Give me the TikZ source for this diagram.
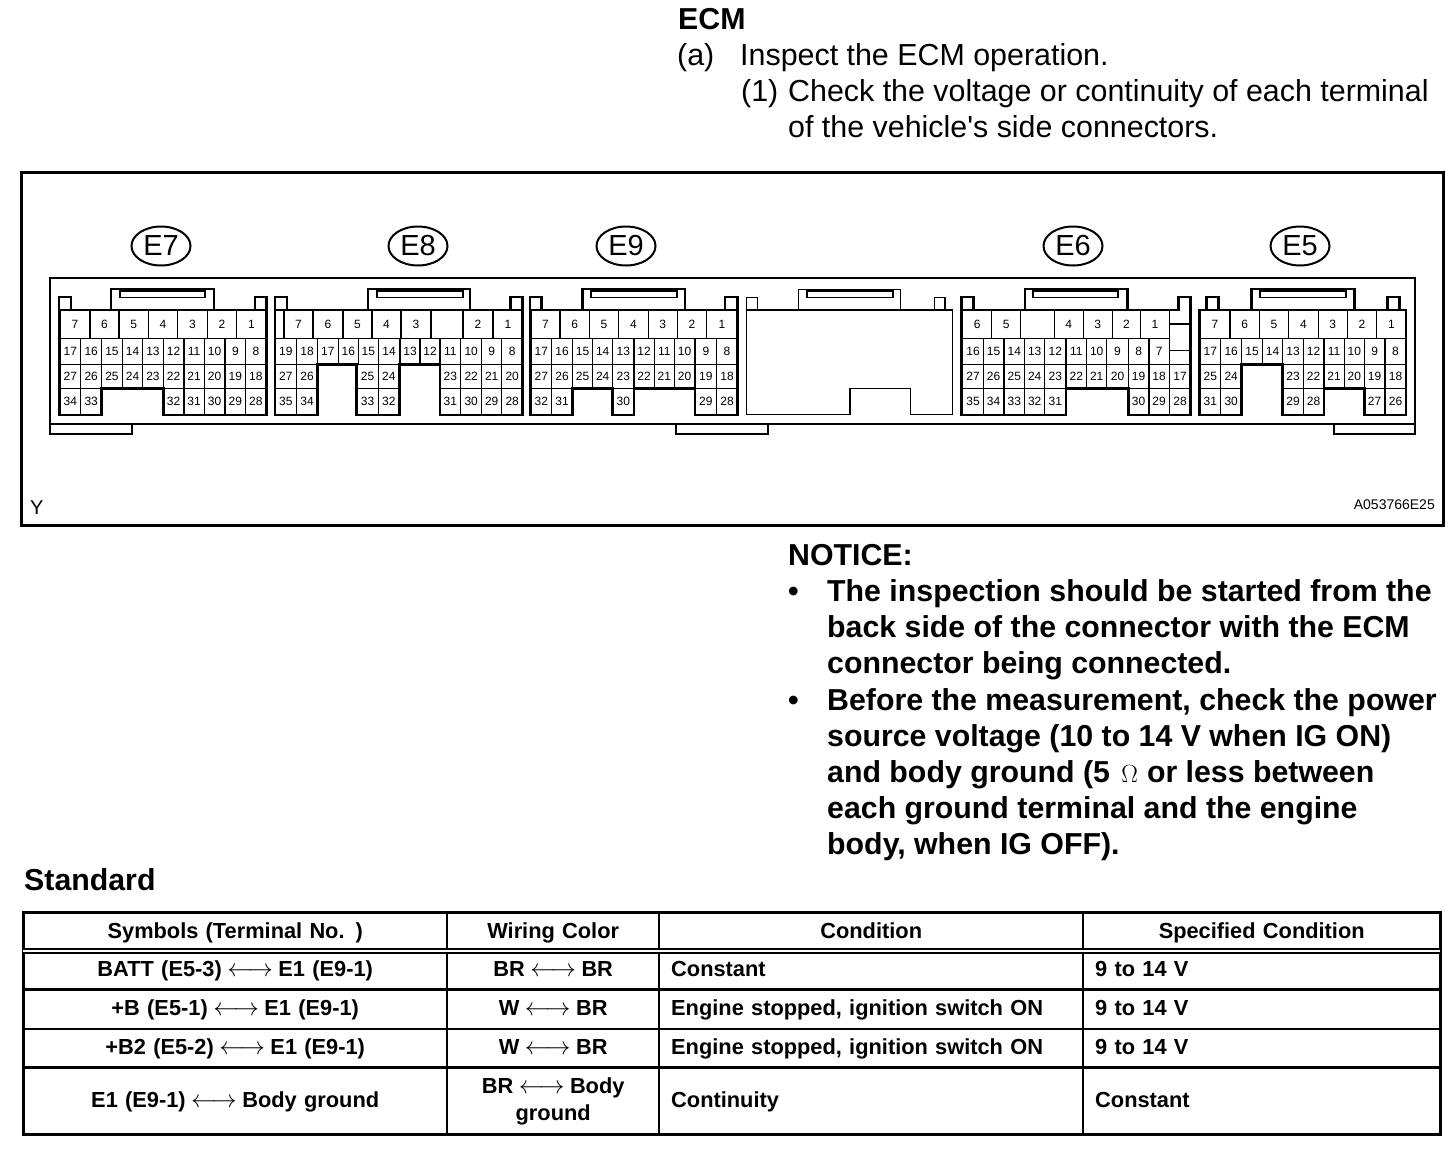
\documentclass[tikz,border=0pt]{standalone}
\usepackage{fontspec}
\setmainfont{Liberation Sans}[Ligatures=TeXOff]
\usetikzlibrary{shapes.geometric}
\newcommand{\biarrow}{\hspace{5.5pt}{\fontsize{25}{25}\selectfont$\longleftrightarrow$}\hspace{5.5pt}}
\newcommand{\ohmsign}{\hspace{3pt}{\fontsize{32}{32}\selectfont$\Omega$}\hspace{9pt}}
% one row of terminals: name, y top, y bottom, x start, list of right edge/label
\newcommand{\cellrow}[5]{%
  \foreach \xb/\lab [remember=\xb as \xa (initially #4)] in {#5}{
    \draw[termcell] (\xa,#2) rectangle (\xb,#3);
    \ifx\lab\empty\else
      \node[termtext] (#1-\lab) at ({(\xa+\xb)/2},{(#2+#3)/2}) {\lab};
    \fi
  }
}
\tikzset{
  termcell/.style={line width=1.3pt},
  termtext/.style={font=\fontsize{12}{12}\selectfont,inner sep=0pt},
  shell/.style={line width=2.8pt,line join=miter},
  slot/.style={line width=1.8pt},
  thinline/.style={line width=1.2pt},
  ecuoval/.style={ellipse,draw,line width=2pt,minimum width=59pt,minimum height=39pt,inner sep=0pt,font=\fontsize{29}{30}\selectfont},
  bodytext/.style={anchor=base west,inner sep=0pt,font=\fontsize{30.4}{36}\selectfont},
  boldtext/.style={anchor=base west,inner sep=0pt,font=\fontsize{30.3}{36}\selectfont\bfseries},
  tabletext/.style={inner sep=0pt,outer sep=0pt,text height=18.4pt,text depth=5pt,font=\fontsize{21.8}{27}\selectfont\bfseries},
  cola/.style={tabletext,text width=424pt,align=center},
  colb/.style={tabletext,text width=212pt,align=center},
  colc/.style={tabletext,inner xsep=12pt,text width=400pt,align=left},
  cold/.style={tabletext,inner xsep=12pt,text width=333pt,align=left},
  tableline/.style={line width=2.2pt},
}
\begin{document}
\begin{tikzpicture}[x=1pt,y=-1pt]
\useasboundingbox (0,0) rectangle (1456,1152);
% heading
\node[boldtext] (ecm) at (678,29) {ECM};
\node[bodytext] (stepa) at (677,65) {(a)};
\node[bodytext] (stepatext) at (740,65) {Inspect the ECM operation.};
\node[bodytext] (stepb) at (741,101) {(1)};
\node[bodytext] (stepbtext) at (788,101) {Check the voltage or continuity of each terminal};
\node[bodytext] (stepbmore) at (788,137) {of the vehicle's side connectors.};
% frame and ECU body
\draw[line width=3pt] (21,172) rectangle (1443,525);
\draw[thinline] (50,424) -- (50,278) -- (1415,278) -- (1415,424);
\draw[line width=2.2pt] (50,424) -- (1415,424);
\draw[thinline] (50,424) -- (50,434) -- (132,434) -- (132,424);
\draw[line width=1.6pt] (676,424) -- (676,434) -- (768,434) -- (768,424);
\draw[line width=1.6pt] (1334,424) -- (1334,434) -- (1415,434) -- (1415,424);
\node[ecuoval] (E7) at (161,246) {E7};
\node[ecuoval] (E8) at (418,246) {E8};
\node[ecuoval] (E9) at (626,246) {E9};
\node[ecuoval] (E6) at (1073,246) {E6};
\node[ecuoval] (E5) at (1300,246) {E5};
% E7
\cellrow{e7}{310}{338.3}{60}{90/7,119/6,148.3/5,177.7/4,207.3/3,236.7/2,266/1}
\cellrow{e7}{338.3}{364.3}{60}{80.7/17,101.7/16,122.3/15,142.7/14,163.3/13,184/12,204.3/11,225/10,245.7/9,266/8}
\cellrow{e7}{364.3}{388.3}{60}{80.7/27,101.7/26,122.3/25,142.7/24,163.3/23,184/22,204.3/21,225/20,245.7/19,266/18}
\cellrow{e7}{388.3}{415}{60}{80.7/34,101.7/33}
\cellrow{e7}{388.3}{415}{163.3}{184/32,204.3/31,225/30,245.7/29,266/28}
\draw[shell] (59,415) -- (101.7,415) -- (101.7,388.3) -- (163.3,388.3) -- (163.3,415) -- (266.5,415) -- (266.5,297) -- (255,297) -- (255,310) -- (214,310) -- (214,289) -- (111,289) -- (111,310) -- (71,310) -- (71,297) -- (59,297) -- cycle;
\draw[slot] (120,291) rectangle (205,297.5);
% E8
\cellrow{e8}{310}{338.3}{275}{284/,313/7,343/6,372/5,401/4,431/3,463/,493/2,522.7/1}
\cellrow{e8}{338.3}{364.3}{275}{296.7/19,317.3/18,338.3/17,358.3/16,378.3/15,400/14,420/13,440/12,460.7/11,481.7/10,501.7/9,522.7/8}
\cellrow{e8}{364.3}{388.3}{275}{296.7/27,317.3/26}
\cellrow{e8}{364.3}{388.3}{356.7}{378.3/25,399.3/24}
\cellrow{e8}{364.3}{388.3}{440}{460.7/23,481.7/22,501.7/21,522.7/20}
\cellrow{e8}{388.3}{415}{275}{296.7/35,317.3/34}
\cellrow{e8}{388.3}{415}{356.7}{378.3/33,399.3/32}
\cellrow{e8}{388.3}{415}{440}{460.7/31,481.7/30,501.7/29,522.7/28}
\draw[shell] (275,415) -- (317.3,415) -- (317.3,364.3) -- (356.7,364.3) -- (356.7,415) -- (399.3,415) -- (399.3,364.3) -- (440,364.3) -- (440,415) -- (522.7,415) -- (522.7,297) -- (510.7,297) -- (510.7,310) -- (470,310) -- (470,289) -- (368,289) -- (368,310) -- (287,310) -- (287,297) -- (275,297) -- cycle;
\draw[slot] (376.7,291) rectangle (462.7,297.5);
% E9
\cellrow{e9}{310}{338.3}{531}{560/7,589.3/6,618.7/5,648.3/4,677.3/3,706.7/2,737.3/1}
\cellrow{e9}{338.3}{364.3}{531}{551.7/17,572.3/16,592.7/15,612.7/14,634/13,654.3/12,674.3/11,695/10,716.7/9,737.3/8}
\cellrow{e9}{364.3}{388.3}{531}{551.7/27,572.3/26,592.7/25,612.7/24,634/23,654.3/22,674.3/21,695/20,716.7/19,737.3/18}
\cellrow{e9}{388.3}{415}{531}{551.7/32,572.3/31}
\cellrow{e9}{388.3}{415}{612.7}{634/30}
\cellrow{e9}{388.3}{415}{695}{716.7/29,737.3/28}
\draw[shell] (530,415) -- (572.3,415) -- (572.3,388.3) -- (612.7,388.3) -- (612.7,415) -- (634,415) -- (634,388.3) -- (695,388.3) -- (695,415) -- (737.3,415) -- (737.3,297) -- (725,297) -- (725,310) -- (685,310) -- (685,289) -- (582.3,289) -- (582.3,310) -- (541.7,310) -- (541.7,297) -- (530,297) -- cycle;
\draw[slot] (591,291) rectangle (676.7,297.5);
% blank module
\draw[thinline] (746.7,310) -- (952.7,310) -- (952.7,414.5) -- (910.7,414.5) -- (910.7,388.3) -- (850,388.3) -- (850,414.5) -- (746.7,414.5) -- cycle;
\draw[thinline] (746.7,310) -- (746.7,297.5) -- (757.7,297.5) -- (757.7,310);
\draw[thinline] (934.3,310) -- (934.3,297.5) -- (945,297.5) -- (945,310);
\draw[thinline] (798.3,310) -- (798.3,289.3) -- (900.7,289.3) -- (900.7,310);
\draw[slot] (806.7,291) rectangle (892.7,297.5);
% E6
\cellrow{e6}{310}{338.3}{962.7}{991.7/6,1020.7/5,1054.3/,1083.3/4,1112.3/3,1140.7/2,1169.3/1}
\cellrow{e6}{338.3}{364.3}{962.7}{983.3/16,1004/15,1024.7/14,1044.7/13,1066/12,1086.7/11,1106.7/10,1128.3/9,1149/8,1169.3/7}
\cellrow{e6}{364.3}{388.3}{962.7}{983.3/27,1004/26,1024.7/25,1044.7/24,1066/23,1086.7/22,1106.7/21,1128.3/20,1149/19,1169.3/18,1190.7/17}
\cellrow{e6}{388.3}{415}{962.7}{983.3/35,1004/34,1024.7/33,1044.7/32,1066/31}
\cellrow{e6}{388.3}{415}{1128.3}{1149/30,1169.3/29,1190.7/28}
\draw[thinline] (1169.3,350.7) -- (1190.7,350.7);
\draw[termcell,line width=2pt] (1169.3,323.7) -- (1190.7,323.7);
\draw[shell] (961.7,415) -- (1066,415) -- (1066,388.3) -- (1128.3,388.3) -- (1128.3,415) -- (1190.7,415) -- (1190.7,297) -- (1178.3,297) -- (1178.3,310) -- (1127.3,310) -- (1127.3,289) -- (1025,289) -- (1025,310) -- (973.3,310) -- (973.3,297) -- (961.7,297) -- cycle;
\draw[slot] (1032.7,291) rectangle (1118.3,297.5);
% E5
\cellrow{e5}{310}{338.3}{1200}{1230/7,1259.3/6,1288.7/5,1318.3/4,1347.3/3,1376.7/2,1406/1}
\cellrow{e5}{338.3}{364.3}{1200}{1220.7/17,1241.7/16,1262.3/15,1282.7/14,1303.3/13,1324/12,1344.3/11,1364.3/10,1385/9,1406/8}
\cellrow{e5}{364.3}{388.3}{1200}{1220.7/25,1241.7/24}
\cellrow{e5}{364.3}{388.3}{1282.7}{1303.3/23,1324/22,1344.3/21,1364.3/20,1385/19,1406/18}
\cellrow{e5}{388.3}{415}{1200}{1220.7/31,1241.7/30}
\cellrow{e5}{388.3}{415}{1282.7}{1303.3/29,1324/28}
\cellrow{e5}{388.3}{415}{1364.3}{1385/27,1406/26}
\draw[shell] (1199.3,415) -- (1241.7,415) -- (1241.7,364.3) -- (1282.7,364.3) -- (1282.7,415) -- (1324,415) -- (1324,388.3) -- (1364.3,388.3) -- (1364.3,415) -- (1406,415) -- (1406,310) -- (1399.3,310) -- (1399.3,297) -- (1387.7,297) -- (1387.7,310) -- (1354.3,310) -- (1354.3,289) -- (1251.7,289) -- (1251.7,310) -- (1218.3,310) -- (1218.3,297) -- (1206.7,297) -- (1206.7,310) -- (1199.3,310) -- cycle;
\draw[slot] (1260,291) rectangle (1346,297.5);
% frame labels
\node[anchor=base west,inner sep=0pt,font=\fontsize{20}{20}\selectfont] (ylabel) at (30,514) {Y};
\node[anchor=base east,inner sep=0pt,font=\fontsize{14}{14}\selectfont] (figcode) at (1435,509) {A053766E25};
% notice
\node[boldtext] (notice) at (788,565) {NOTICE:};
\node[boldtext] (bulleta) at (788,601.5) {•};
\node[boldtext] (bulletb) at (788,710) {•};
\foreach \ytxt/\txt [count=\i] in {601.5/{The inspection should be started from the},637.5/{back side of the connector with the ECM},673.5/{connector being connected.},710/{Before the measurement, check the power},746.5/{source voltage (10 to 14 V when IG ON)},782.5/{and body ground (5 \ohmsign or less between},818.5/{each ground terminal and the engine},854.5/{body, when IG OFF).}}
  \node[boldtext] (noticeline\i) at (827,\ytxt) {\txt};
% table
\node[boldtext] (standard) at (24,890) {Standard};
\matrix (stdtable) at (23,912) [anchor=north west,inner sep=0pt,row sep=0pt,column sep=0pt] {
  \node[cola,minimum height=39pt] (r1a) {Symbols (Terminal No. )}; &
  \node[colb,minimum height=39pt] (r1b) {Wiring Color}; &
  \node[cola,minimum height=39pt] (r1c) {Condition}; &
  \node[tabletext,text width=357pt,align=center,minimum height=39pt] (r1d) {Specified Condition}; \\
  \node[cola,minimum height=38pt] (r2a) {BATT (E5-3)\biarrow E1 (E9-1)}; &
  \node[colb,minimum height=38pt] (r2b) {BR\biarrow BR}; &
  \node[colc,minimum height=38pt] (r2c) {Constant}; &
  \node[cold,minimum height=38pt] (r2d) {9 to 14 V}; \\
  \node[cola,minimum height=40pt] (r3a) {+B (E5-1)\biarrow E1 (E9-1)}; &
  \node[colb,minimum height=40pt] (r3b) {W\biarrow BR}; &
  \node[colc,minimum height=40pt] (r3c) {Engine stopped, ignition switch ON}; &
  \node[cold,minimum height=40pt] (r3d) {9 to 14 V}; \\
  \node[cola,minimum height=38pt] (r4a) {+B2 (E5-2)\biarrow E1 (E9-1)}; &
  \node[colb,minimum height=38pt] (r4b) {W\biarrow BR}; &
  \node[colc,minimum height=38pt] (r4c) {Engine stopped, ignition switch ON}; &
  \node[cold,minimum height=38pt] (r4d) {9 to 14 V}; \\
  \node[cola,minimum height=67pt] (r5a) {E1 (E9-1)\biarrow Body ground}; &
  \node[colb,minimum height=67pt,text depth=32pt] (r5b) {BR\biarrow Body\\ground}; &
  \node[colc,minimum height=67pt] (r5c) {Continuity}; &
  \node[cold,minimum height=67pt] (r5d) {Constant}; \\
};
\draw[tableline,line width=2.6pt] (r1a.north west) rectangle (r5d.south east);
\foreach \colname in {a,b,c}
  \draw[tableline] (r1\colname.north east) -- (r5\colname.south east);
\draw[double,double distance=1.8pt,line width=2pt] (r1a.south west) -- (r1d.south east);
\draw[tableline,line width=3pt] (r2a.south west) -- (r2d.south east);
\draw[tableline] (r3a.south west) -- (r3d.south east);
\draw[tableline,line width=3pt] (r4a.south west) -- (r4d.south east);
\end{tikzpicture}
\end{document}
